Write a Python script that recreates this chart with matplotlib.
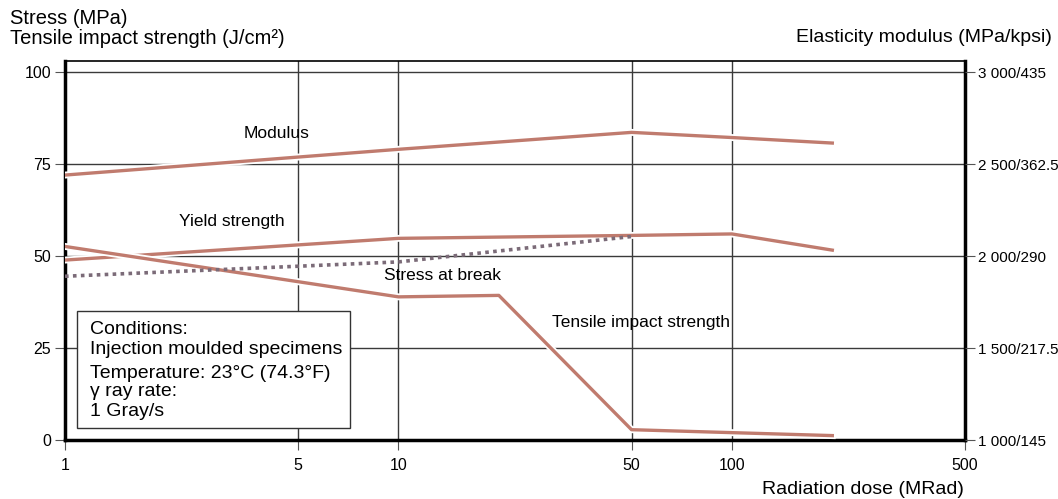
import matplotlib
matplotlib.use("Agg")
import matplotlib.pyplot as plt
import matplotlib.patheffects as pe
from matplotlib.ticker import FixedLocator, NullLocator

plt.rcParams['font.family'] = ['Liberation Sans', 'DejaVu Sans']

# Data (x = radiation dose in MRad, y on the left 0-100 scale)
modulus_x = [1, 10, 50, 100, 200]
modulus_y = [72.0, 79.0, 83.6, 82.2, 80.7]

yield_x = [1, 10, 50, 100, 200]
yield_y = [48.9, 54.8, 55.6, 56.0, 51.6]

break_x = [1, 10, 50]
break_y = [44.5, 48.4, 55.3]

impact_x = [1, 10, 20, 50, 100, 200]
impact_y = [52.6, 38.9, 39.3, 2.8, 2.0, 1.2]

x_ticks = [1, 5, 10, 50, 100, 500]
x_ticklabels = ['1', '5', '10', '50', '100', '500']
left_ticks = [0, 25, 50, 75, 100]
left_ticklabels = ['0', '25', '50', '75', '100']
right_ticklabels = ['1 000/145', '1 500/217.5', '2 000/290', '2 500/362.5', '3 000/435']

line_color = '#c07b6e'
dot_color = '#7b6b78'
grid_color = '#3a3a3a'

fig = plt.figure(figsize=(10.58, 4.99), dpi=100)
ax = fig.add_axes([65/1058, 1-440/499, (965-65)/1058, (440-61)/499])
ax.set_xscale('log')
ax.set_xlim(1, 500)
ax.set_ylim(0, 103)

ax.xaxis.set_major_locator(FixedLocator(x_ticks))
ax.xaxis.set_minor_locator(NullLocator())
ax.set_xticklabels(x_ticklabels)
ax.set_yticks(left_ticks)
ax.set_yticklabels(left_ticklabels)

for v in [5, 10, 50, 100]:
    ax.axvline(v, color=grid_color, lw=1.0, zorder=1)
for v in [25, 50, 75, 100]:
    ax.axhline(v, color=grid_color, lw=1.0, zorder=1)

halo = [pe.Stroke(linewidth=5, foreground='white'), pe.Normal()]
ax.plot(modulus_x, modulus_y, color=line_color, lw=2.4, zorder=3, path_effects=halo)
ax.plot(yield_x, yield_y, color=line_color, lw=2.4, zorder=3, path_effects=halo)
ax.plot(impact_x, impact_y, color=line_color, lw=2.4, zorder=3, path_effects=halo)
ax.plot(break_x, break_y, color=dot_color, lw=2.6, ls=(0, (1, 1.2)), zorder=3)

for side in ['left', 'bottom', 'right']:
    ax.spines[side].set_linewidth(2.5)
    ax.spines[side].set_color('black')
ax.spines['top'].set_linewidth(1.2)
ax.spines['top'].set_color('black')

ax.tick_params(axis='both', which='major', length=7, width=0.8, color='#555555',
               labelsize=11.5, direction='out', pad=3)
ax.tick_params(axis='x', pad=6)

ax2 = ax.twinx()
ax2.set_ylim(0, 103)
ax2.set_yticks(left_ticks)
ax2.set_yticklabels(right_ticklabels)
ax2.tick_params(axis='y', length=7, width=0.8, color='#555555', labelsize=11, pad=2)
for s in ax2.spines.values():
    s.set_visible(False)

# Series labels
ax.text(4.3, 83.4, 'Modulus', fontsize=12.5, ha='center', va='center', zorder=4)
ax.text(3.17, 59.5, 'Yield strength', fontsize=12.5, ha='center', va='center', zorder=4)
ax.text(13.6, 44.6, 'Stress at break', fontsize=12.5, ha='center', va='center', zorder=4)
ax.text(28.8, 31.8, 'Tensile impact strength', fontsize=12.5, ha='left', va='center', zorder=4)

# Conditions box
box = plt.Rectangle((77/1058, 1-428/499), (350-77)/1058, (428-311)/499,
                    transform=fig.transFigure, facecolor='white', edgecolor='#333333',
                    lw=1.0, zorder=5)
fig.patches.append(box)
cond_lines = ['Conditions:', 'Injection moulded specimens', 'Temperature: 23°C (74.3°F)',
              'γ ray rate:', '1 Gray/s']
cond_y = [329, 350, 373, 392, 412]
for t, yy in zip(cond_lines, cond_y):
    fig.text(90/1058, 1-yy/499, t, fontsize=14, ha='left', va='center', zorder=6)

fig.text(10/1058, 1-18/499, 'Stress (MPa)', fontsize=14.5, ha='left', va='center')
fig.text(10/1058, 1-39/499, 'Tensile impact strength (J/cm²)', fontsize=14.5, ha='left', va='center')
fig.text(1052/1058, 1-37/499, 'Elasticity modulus (MPa/kpsi)', fontsize=14, ha='right', va='center')
fig.text(964/1058, 1-489/499, 'Radiation dose (MRad)', fontsize=14, ha='right', va='center')

fig.savefig('out.png', dpi=100, facecolor='white')
